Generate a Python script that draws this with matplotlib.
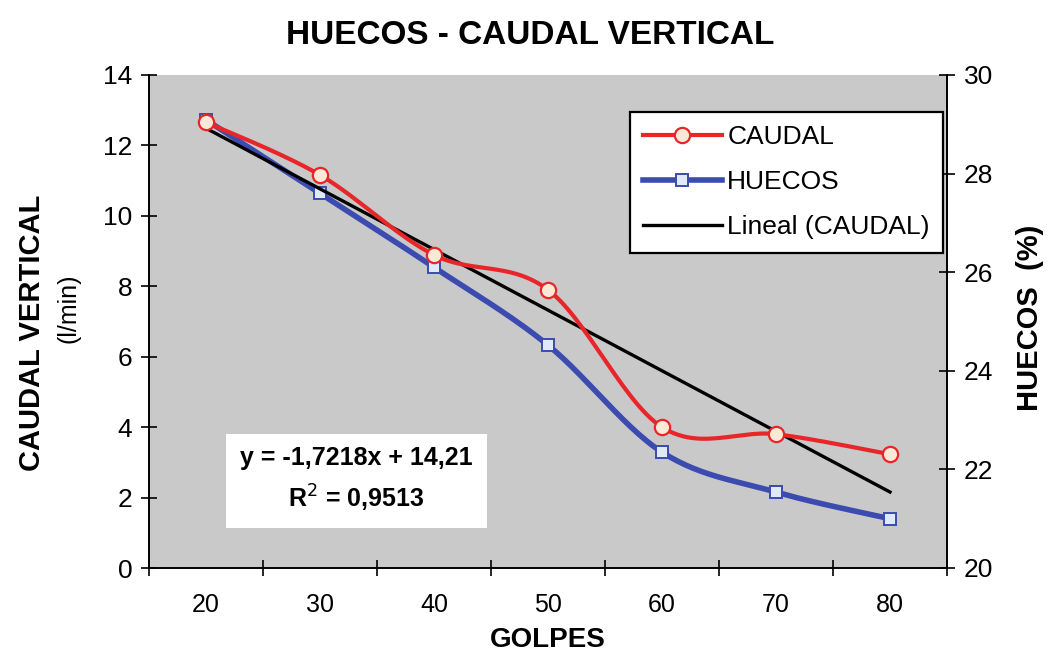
import numpy as np
import matplotlib
matplotlib.use("Agg")
import matplotlib.pyplot as plt
from matplotlib.lines import Line2D

golpes = ["20", "30", "40", "50", "60", "70", "80"]
caudal = [12.66, 11.16, 8.89, 7.9, 4.0, 3.8, 3.23]
huecos = [29.09, 27.6, 26.1, 24.52, 22.35, 21.54, 21.0]
slope, intercept = -1.7218, 14.21

plt.rcParams['font.family'] = ['Liberation Sans', 'DejaVu Sans']

def smooth(x, y, n=30):
    P = np.column_stack([x, y]).astype(float)
    Pp = np.vstack([P[0], P, P[-1]])
    out = []
    for i in range(len(P) - 1):
        p0, p1, p2, p3 = Pp[i], Pp[i + 1], Pp[i + 2], Pp[i + 3]
        c1 = p1 + (p2 - p0) / 6
        c2 = p2 - (p3 - p1) / 6
        t = np.linspace(0, 1, n)[:, None]
        seg = (1 - t) ** 3 * p1 + 3 * (1 - t) ** 2 * t * c1 + 3 * (1 - t) * t ** 2 * c2 + t ** 3 * p2
        out.append(seg if i == 0 else seg[1:])
    s = np.vstack(out)
    return s[:, 0], s[:, 1]

fig = plt.figure(figsize=(10.49, 6.57), dpi=100)
ax = fig.add_axes([149 / 1049, 1 - 568 / 657, (947 - 149) / 1049, (568 - 75) / 657])
ax2 = ax.twinx()
ax.set_zorder(ax2.get_zorder() + 1)
ax.patch.set_visible(False)
ax2.patch.set_visible(True)
ax2.patch.set_facecolor("#c9c9c9")

x = np.arange(1, len(golpes) + 1)
red = "#e8262a"
blue = "#3b4bb0"

xs, ys = smooth(x, caudal)
ax.plot(xs, ys, color=red, lw=3, zorder=3)
ax.plot(x, caudal, 'o', ms=11, mfc="#fbe9d8", mec=red, mew=1.6, zorder=4)

xt = np.array([x[0], x[-1]])
ax.plot(xt, slope * xt + intercept, color="black", lw=2.4, zorder=2)

ax2b = ax.twinx()
ax2b.set_ylim(20, 30)
ax2b.axis("off")
xs2, ys2 = smooth(x, huecos)
ax2b.plot(xs2, ys2, color=blue, lw=4, zorder=3)
ax2b.plot(x, huecos, 's', ms=8.5, mfc="#dfe9f7", mec=blue, mew=1.4, zorder=4)
ax2b.set_zorder(ax.get_zorder() - 0.5)

ax.set_xlim(0.5, 7.5)
ax.set_ylim(0, 14)
ax2.set_ylim(20, 30)
ax2b.set_xlim(0.5, 7.5)

ax.set_xticks(np.arange(0.5, 8, 1))
ax.set_xticklabels([])
ax.set_xticks(x, minor=True)
ax.set_xticklabels(golpes, minor=True, fontsize=18)
ax.tick_params(axis='x', which='minor', length=0, pad=18)
ax.tick_params(axis='x', which='major', direction='inout', length=12, width=1.2)
ax.set_yticks(range(0, 15, 2))
ax.tick_params(axis='y', direction='inout', length=12, width=1.2, labelsize=19, pad=6)
ax2.set_yticks(range(20, 31, 2))
ax2.tick_params(axis='y', direction='inout', length=12, width=1.2, labelsize=19, pad=6)

for a in (ax, ax2):
    a.spines['top'].set_visible(False)
ax.spines['right'].set_visible(False)
ax.spines['left'].set_linewidth(1.4)
ax.spines['bottom'].set_linewidth(1.4)
ax2.spines['right'].set_linewidth(1.4)
ax2.spines['left'].set_visible(False)
ax2.spines['bottom'].set_visible(False)

fig.text(530 / 1049, 1 - 35 / 657, "HUECOS - CAUDAL VERTICAL", ha="center", va="center",
         fontsize=24, fontweight="bold")
fig.text(548 / 1049, 1 - 640 / 657, "GOLPES", ha="center", va="center", fontsize=20,
         fontweight="bold")
fig.text(32 / 1049, 1 - 333 / 657, "CAUDAL VERTICAL", rotation=90, ha="center", va="center",
         fontsize=21, fontweight="bold")
fig.text(68 / 1049, 1 - 308 / 657, "(l/min)", rotation=90, ha="center", va="center",
         fontsize=18)
fig.text(1030 / 1049, 1 - 318 / 657, "HUECOS  (%)", rotation=90, ha="center", va="center",
         fontsize=21, fontweight="bold")

ax.text(0.26, 0.178, "y = -1,7218x + 14,21\nR$^2$ = 0,9513", transform=ax.transAxes,
        ha="center", va="center", fontsize=18, fontweight="bold", linespacing=1.5,
        bbox=dict(boxstyle="square,pad=0.55", fc="white", ec="none"), zorder=6)

handles = [
    Line2D([], [], color=red, lw=3, marker='o', ms=11, mfc="#fbe9d8", mec=red, mew=1.6),
    Line2D([], [], color=blue, lw=4, marker='s', ms=8.5, mfc="#dfe9f7", mec=blue, mew=1.4),
    Line2D([], [], color="black", lw=2.4),
]
leg = ax.legend(handles, ["CAUDAL", "HUECOS", "Lineal (CAUDAL)"], loc="upper right",
                bbox_to_anchor=(0.995, 0.925), fontsize=19, frameon=True, fancybox=False,
                edgecolor="black", framealpha=1, handlelength=3.0, handletextpad=0.2,
                borderpad=0.5, labelspacing=0.8, borderaxespad=0)
leg.get_frame().set_linewidth(1.6)
leg.set_zorder(7)

fig.savefig("out.png", dpi=100)
